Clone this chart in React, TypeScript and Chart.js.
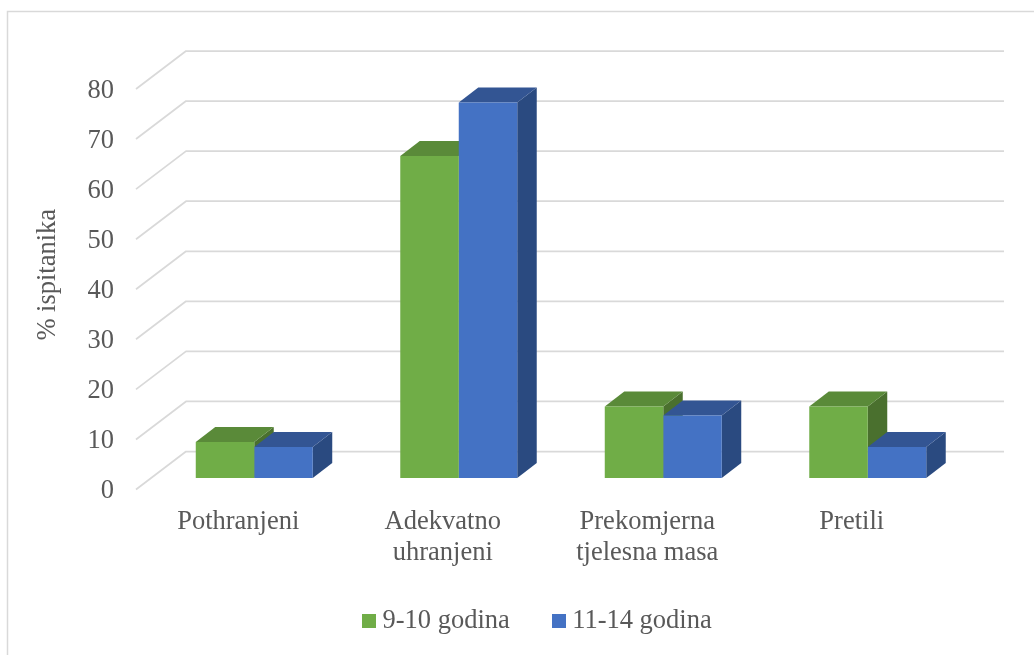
import React, { useEffect, useRef } from "react";
import { Chart, registerables } from "chart.js";

Chart.register(...registerables);

const categories = ["Pothranjeni", ["Adekvatno", "uhranjeni"], ["Prekomjerna", "tjelesna masa"], "Pretili"];
const seriesNames = ["9-10 godina", "11-14 godina"];
const younger = [7.2, 64.3, 14.3, 14.3];
const older = [6.2, 75, 12.5, 6.2];
const frontColors = ["#70AD47", "#4472C4"];
const topColors = ["#5A8A39", "#335593"];
const sideColors = ["#4A702E", "#2A4A80"];
const axisTitle = "% ispitanika";

const FONT = "'Liberation Serif'";
const TEXT = "#595959";
const GRID = "#D9D9D9";
const WALL_DX = 50;
const WALL_DY = -38;
const BAR_DX = 16;
const BAR_DY = -11.5;
const DEPTH_X = 19.5;
const DEPTH_Y = -15;

function swatch(color: string) {
  const c = document.createElement("canvas");
  c.width = 14;
  c.height = 14;
  const g = c.getContext("2d")!;
  g.fillStyle = color;
  g.fillRect(0, 0, 14, 14);
  return c;
}

const scene3d = {
  id: "scene3d",
  afterLayout(chart: any) {
    const legend = chart.legend;
    legend.left = 47;
    legend.right = 1034;
    legend.top = 559;
    const y = chart.scales.y;
    if (!y.__shifted) {
      y.__shifted = true;
      const orig = y.drawTitle;
      y.drawTitle = function () {
        this.ctx.save();
        this.ctx.translate(2, -14.5);
        orig.call(this);
        this.ctx.restore();
      };
    }
  },
  beforeDraw(chart: any) {
    const { ctx, width, height } = chart;
    ctx.save();
    ctx.strokeStyle = GRID;
    ctx.lineWidth = 1.5;
    ctx.beginPath();
    ctx.moveTo(7.5, height);
    ctx.lineTo(7.5, 11.5);
    ctx.lineTo(width, 11.5);
    ctx.stroke();
    ctx.restore();
  },
  beforeDatasetsDraw(chart: any) {
    const { ctx, chartArea, scales } = chart;
    ctx.save();
    ctx.strokeStyle = GRID;
    ctx.lineWidth = 1.75;
    ctx.lineJoin = "round";
    for (const tick of scales.y.ticks) {
      const y = scales.y.getPixelForValue(tick.value);
      ctx.beginPath();
      ctx.moveTo(chartArea.left, y);
      ctx.lineTo(chartArea.left + WALL_DX, y + WALL_DY);
      ctx.lineTo(chartArea.right + WALL_DX, y + WALL_DY);
      ctx.stroke();
    }
    ctx.restore();

    ctx.save();
    ctx.translate(BAR_DX, BAR_DY);
    chart.data.datasets.forEach((_: any, i: number) => {
      for (const el of chart.getDatasetMeta(i).data) {
        const l = el.x - el.width / 2;
        const r = el.x + el.width / 2;
        ctx.fillStyle = sideColors[i];
        ctx.beginPath();
        ctx.moveTo(r, el.y);
        ctx.lineTo(r + DEPTH_X, el.y + DEPTH_Y);
        ctx.lineTo(r + DEPTH_X, el.base + DEPTH_Y);
        ctx.lineTo(r, el.base);
        ctx.closePath();
        ctx.fill();
        ctx.fillStyle = topColors[i];
        ctx.beginPath();
        ctx.moveTo(l, el.y);
        ctx.lineTo(l + DEPTH_X, el.y + DEPTH_Y);
        ctx.lineTo(r + DEPTH_X, el.y + DEPTH_Y);
        ctx.lineTo(r, el.y);
        ctx.closePath();
        ctx.fill();
      }
    });
    ctx.restore();

    ctx.save();
    ctx.translate(BAR_DX, BAR_DY);
  },
  afterDatasetsDraw(chart: any) {
    chart.ctx.restore();
  },
};

export default function App() {
  const ref = useRef<HTMLCanvasElement>(null);

  useEffect(() => {
    const chart = new Chart(ref.current!, {
      type: "bar",
      data: {
        labels: categories as any,
        datasets: [
          { label: seriesNames[0], data: younger, backgroundColor: frontColors[0], clip: false } as any,
          { label: seriesNames[1], data: older, backgroundColor: frontColors[1], clip: false } as any,
        ],
      },
      options: {
        responsive: false,
        animation: false,
        devicePixelRatio: 1,
        layout: { padding: { left: 0, right: 80, top: 89, bottom: 0 } },
        datasets: { bar: { barPercentage: 1, categoryPercentage: 0.572 } },
        plugins: {
          tooltip: { enabled: false },
          legend: {
            position: "bottom",
            labels: {
              usePointStyle: true,
              pointStyleWidth: 0.01,
              padding: 49,
              color: TEXT,
              font: { family: FONT, size: 26.5 },
              generateLabels(c: any) {
                const items = (Chart.defaults.plugins.legend.labels as any).generateLabels(c);
                return items.map((it: any, i: number) => ({ ...it, pointStyle: swatch(frontColors[i]) }));
              },
            },
          },
        },
        scales: {
          x: {
            grid: { display: false, drawTicks: false },
            border: { display: false },
            ticks: {
              autoSkip: false,
              maxRotation: 0,
              minRotation: 0,
              padding: 17,
              color: TEXT,
              font: { family: FONT, size: 26.5, lineHeight: 1.17 },
            },
            afterFit(s: any) {
              s.height = 80;
            },
          },
          y: {
            min: 0,
            max: 80,
            grid: { display: false, drawTicks: false },
            border: { display: false },
            ticks: {
              stepSize: 10,
              padding: 22,
              labelOffset: 2,
              color: TEXT,
              font: { family: FONT, size: 26.5 },
            },
            title: {
              display: true,
              text: axisTitle,
              color: TEXT,
              font: { family: FONT, size: 26.5 },
              padding: { top: 30, bottom: 0 },
            },
            afterFit(s: any) {
              s.width = 136;
            },
          },
        },
      } as any,
      plugins: [scene3d],
    });
    return () => chart.destroy();
  }, []);

  return (
    <canvas
      ref={ref}
      width={1034}
      height={655}
      style={{ position: "fixed", left: 0, top: 0, display: "block" }}
    />
  );
}
